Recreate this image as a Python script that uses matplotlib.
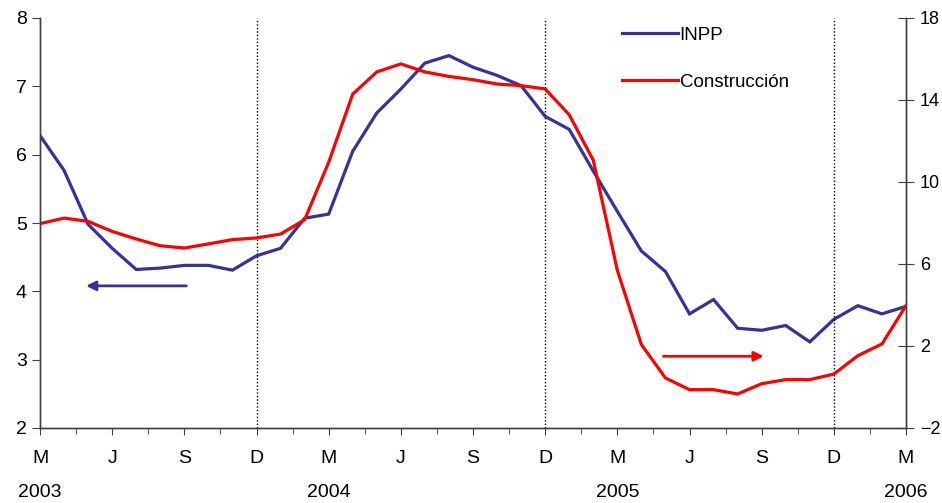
import matplotlib.pyplot as plt
import numpy as np

# Monthly data, Mar 2003 .. Mar 2006
months = ["M", "A", "M", "J", "J", "A", "S", "O", "N", "D", "E", "F"] * 3 + ["M"]
inpp = [6.28, 5.77, 4.98, 4.63, 4.32, 4.34, 4.38, 4.38, 4.31, 4.52, 4.63, 5.07,
        5.13, 6.05, 6.61, 6.96, 7.34, 7.45, 7.28, 7.16, 7.01, 6.56, 6.37, 5.76,
        5.17, 4.59, 4.29, 3.67, 3.88, 3.46, 3.43, 3.50, 3.26, 3.59, 3.79, 3.67,
        3.78]
construccion = [7.97, 8.24, 8.08, 7.59, 7.22, 6.89, 6.78, 6.98, 7.19, 7.27, 7.46, 8.16,
                10.96, 14.29, 15.37, 15.76, 15.37, 15.15, 14.99, 14.78, 14.70, 14.54, 13.28, 11.06,
                5.69, 2.07, 0.44, -0.13, -0.13, -0.34, 0.16, 0.36, 0.36, 0.63, 1.53, 2.10,
                3.97]
tick_labels = ["M", "J", "S", "D"] * 3 + ["M"]
years = ["2003", "2004", "2005", "2006"]

blue = "#333399"
red = "#FF0000"
plt.rcParams['font.family'] = ['Liberation Sans', 'DejaVu Sans']

x = np.arange(len(inpp))

fig = plt.figure(figsize=(9.42, 5.03), dpi=100)
ax = fig.add_axes([40/942, 1 - 428/503, 866/942, 410/503])
ax2 = ax.twinx()

ax.plot(x, inpp, color=blue, lw=2.3, solid_joinstyle='miter')
ax2.plot(x, construccion, color=red, lw=2.3, solid_joinstyle='miter')

ax.set_xlim(0, 36)
ax.set_ylim(2, 8)
ax2.set_ylim(-2, 18)
ax.set_yticks(range(2, 9))
ax2.set_yticks([-2, 2, 6, 10, 14, 18])

# vertical dotted lines at December
for d in [9, 21, 33]:
    ax.axvline(d, color='black', ls=(0, (1, 1.5)), lw=1)

ax.set_xticks(np.arange(0, 37, 3))
ax.set_xticklabels(tick_labels)
ax.set_xticks(np.arange(1.5, 36, 3), minor=True)

for a in (ax, ax2):
    a.spines['top'].set_visible(False)
    for s in a.spines.values():
        s.set_color('#404040')
        s.set_linewidth(1)
ax.tick_params(axis='y', direction='out', length=6, labelsize=14, color='#404040')
ax.tick_params(axis='x', which='major', direction='out', length=5, labelsize=14,
               pad=11, color='#404040')
ax.tick_params(axis='x', which='minor', direction='out', length=4, color='#404040')
ax2.tick_params(axis='y', direction='inout', length=12, labelsize=13, pad=4,
                color='#404040')

for i, yr in enumerate(years):
    ax.text(i * 12, -0.157, yr, transform=ax.get_xaxis_transform(),
            ha='center', va='center', fontsize=14)

# arrows
ax.annotate("", xy=(1.8, 4.08), xytext=(6.2, 4.08),
            arrowprops=dict(arrowstyle='-|>', color=blue, lw=2,
                            mutation_scale=14))
ax2.annotate("", xy=(30.2, 1.5), xytext=(25.8, 1.5),
             arrowprops=dict(arrowstyle='-|>', color=red, lw=2,
                             mutation_scale=14))

# legend
ax.plot([], [], color=blue, lw=2.3, label="INPP")
ax.plot([], [], color=red, lw=2.3, label="Construcción")
leg = ax.legend(loc='upper left', bbox_to_anchor=(0.652, 1.02), frameon=False,
                handlelength=3.0, handletextpad=0.1,
                labelspacing=1.6, prop={'size': 13.5})

fig.savefig("out.png", dpi=100)
